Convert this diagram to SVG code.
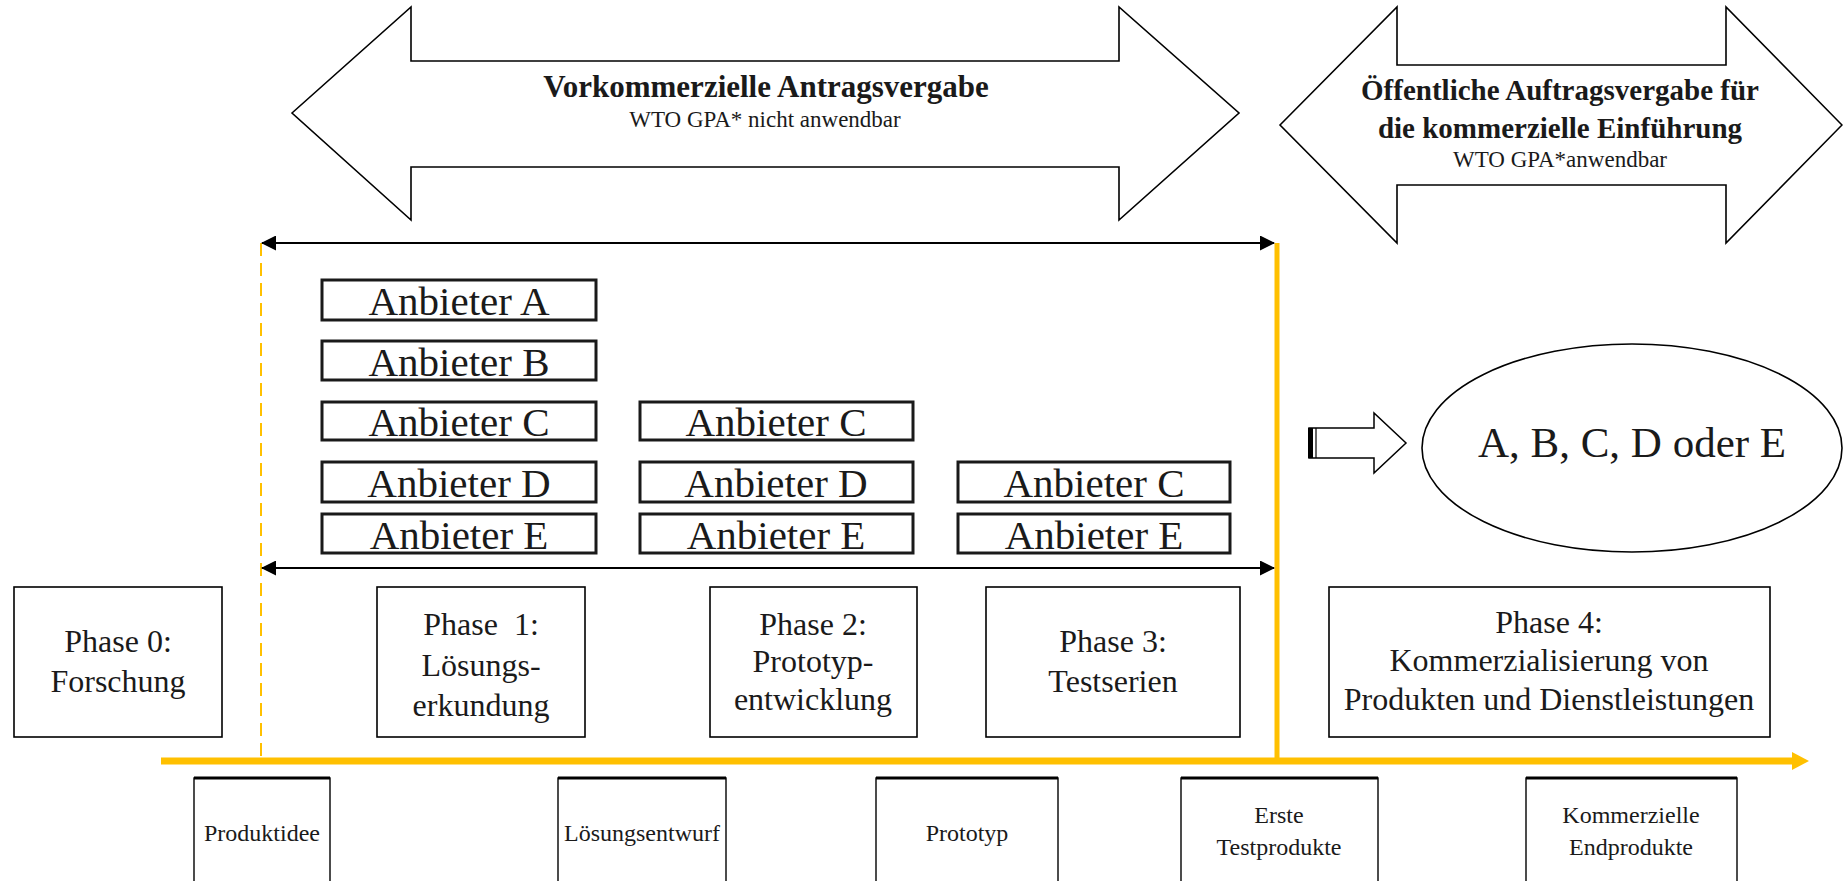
<svg xmlns="http://www.w3.org/2000/svg" width="1843" height="881" viewBox="0 0 1843 881">
<defs>
<style>
.bg{fill:#ffffff}
.big{fill:#ffffff;stroke:#000;stroke-width:1.6;stroke-linejoin:miter}
.t{font-family:"Liberation Serif","Times New Roman",serif;fill:#1a1a1a;text-anchor:middle}
.b{font-weight:bold}
.anb{fill:#fff;stroke:#1a1a1a;stroke-width:3}
.ph{fill:#fff;stroke:#000;stroke-width:1.6}
.bx{fill:#fff;stroke:#000;stroke-width:1.4}
.bxt{stroke:#000;stroke-width:3}
.dim{stroke:#000;stroke-width:2;fill:none}
</style>
<marker id="ah" viewBox="0 0 15 15" refX="14" refY="7.5" markerWidth="15" markerHeight="15" markerUnits="userSpaceOnUse" orient="auto-start-reverse">
<path d="M0,0 L15,7.5 L0,15 z" fill="#000"/>
</marker>
<marker id="oh" viewBox="0 0 17 18" refX="2" refY="9" markerWidth="17" markerHeight="18" markerUnits="userSpaceOnUse" orient="auto">
<path d="M0,0 L17,9 L0,18 z" fill="#FFC000"/>
</marker>
</defs>
<rect class="bg" x="0" y="0" width="1843" height="881"/>

<g id="arrow-vorkommerziell">
<polygon class="big" points="292,113 411,7 411,61 1119,61 1119,7 1239,113 1119,220 1119,167 411,167 411,220"/>
<text class="t b" x="766" y="97" font-size="31">Vorkommerzielle Antragsvergabe</text>
<text class="t" x="765" y="127" font-size="23">WTO GPA* nicht anwendbar</text>
</g>

<g id="arrow-oeffentlich">
<polygon class="big" points="1280,125 1397,7 1397,65 1726,65 1726,7 1842,125 1726,243 1726,185 1397,185 1397,243"/>
<text class="t b" x="1560" y="100" font-size="29">Öffentliche Auftragsvergabe für</text>
<text class="t b" x="1560" y="138" font-size="29">die kommerzielle Einführung</text>
<text class="t" x="1560" y="167" font-size="23">WTO GPA*anwendbar</text>
</g>

<g id="connectors">
<line x1="261" y1="243" x2="261" y2="758" stroke="#FFC000" stroke-width="2" stroke-dasharray="13,7"/>
<line x1="1277" y1="243" x2="1277" y2="758" stroke="#FFC000" stroke-width="5"/>
<line x1="161" y1="761" x2="1794" y2="761" stroke="#FFC000" stroke-width="7" marker-end="url(#oh)"/>
<line class="dim" x1="262" y1="243" x2="1274" y2="243" marker-start="url(#ah)" marker-end="url(#ah)"/>
<line class="dim" x1="262" y1="568" x2="1274" y2="568" marker-start="url(#ah)" marker-end="url(#ah)"/>
</g>

<g id="anbieter-1A"><rect class="anb" x="322" y="280" width="274" height="40"/><text class="t" x="459" y="315" font-size="41">Anbieter A</text></g>
<g id="anbieter-1B"><rect class="anb" x="322" y="341" width="274" height="39"/><text class="t" x="459" y="376" font-size="41">Anbieter B</text></g>
<g id="anbieter-1C"><rect class="anb" x="322" y="402" width="274" height="38"/><text class="t" x="459" y="436" font-size="41">Anbieter C</text></g>
<g id="anbieter-1D"><rect class="anb" x="322" y="462" width="274" height="40"/><text class="t" x="459" y="497" font-size="41">Anbieter D</text></g>
<g id="anbieter-1E"><rect class="anb" x="322" y="514" width="274" height="39"/><text class="t" x="459" y="549" font-size="41">Anbieter E</text></g>
<g id="anbieter-2C"><rect class="anb" x="640" y="402" width="273" height="38"/><text class="t" x="776" y="436" font-size="41">Anbieter C</text></g>
<g id="anbieter-2D"><rect class="anb" x="640" y="462" width="273" height="40"/><text class="t" x="776" y="497" font-size="41">Anbieter D</text></g>
<g id="anbieter-2E"><rect class="anb" x="640" y="514" width="273" height="39"/><text class="t" x="776" y="549" font-size="41">Anbieter E</text></g>
<g id="anbieter-3C"><rect class="anb" x="958" y="462" width="272" height="40"/><text class="t" x="1094" y="497" font-size="41">Anbieter C</text></g>
<g id="anbieter-3E"><rect class="anb" x="958" y="514" width="272" height="39"/><text class="t" x="1094" y="549" font-size="41">Anbieter E</text></g>

<g id="small-arrow">
<polygon points="1309,428 1374,428 1374,413 1406,443 1374,473 1374,458 1309,458" fill="#fff" stroke="#000" stroke-width="1.5"/>
<rect x="1308" y="428" width="5" height="30" fill="#000"/>
<line x1="1316" y1="428" x2="1316" y2="458" stroke="#000" stroke-width="1.2"/>
</g>

<g id="ellipse-result">
<ellipse cx="1632" cy="448" rx="210" ry="104" fill="#fff" stroke="#000" stroke-width="1.6"/>
<text class="t" x="1632" y="457" font-size="43">A, B, C, D oder E</text>
</g>

<g id="phase0"><rect class="ph" x="14" y="587" width="208" height="150"/>
<text class="t" x="118" y="652" font-size="32">Phase 0:</text><text class="t" x="118" y="692" font-size="32">Forschung</text></g>
<g id="phase1"><rect class="ph" x="377" y="587" width="208" height="150"/>
<text class="t" x="481" y="635" font-size="32" style="white-space:pre">Phase  1:</text><text class="t" x="481" y="676" font-size="32">Lösungs-</text><text class="t" x="481" y="716" font-size="32">erkundung</text></g>
<g id="phase2"><rect class="ph" x="710" y="587" width="207" height="150"/>
<text class="t" x="813" y="635" font-size="32">Phase 2:</text><text class="t" x="813" y="672" font-size="32">Prototyp-</text><text class="t" x="813" y="710" font-size="32">entwicklung</text></g>
<g id="phase3"><rect class="ph" x="986" y="587" width="254" height="150"/>
<text class="t" x="1113" y="652" font-size="32">Phase 3:</text><text class="t" x="1113" y="692" font-size="32">Testserien</text></g>
<g id="phase4"><rect class="ph" x="1329" y="587" width="441" height="150"/>
<text class="t" x="1549" y="633" font-size="32">Phase 4:</text><text class="t" x="1549" y="671" font-size="32">Kommerzialisierung von</text><text class="t" x="1549" y="710" font-size="32">Produkten und Dienstleistungen</text></g>

<g id="out-produktidee"><rect class="bx" x="194" y="778" width="136" height="120"/><line class="bxt" x1="194" y1="778" x2="330" y2="778"/>
<text class="t" x="262" y="841" font-size="24">Produktidee</text></g>
<g id="out-loesungsentwurf"><rect class="bx" x="558" y="778" width="168" height="120"/><line class="bxt" x1="558" y1="778" x2="726" y2="778"/>
<text class="t" x="642" y="841" font-size="24">Lösungsentwurf</text></g>
<g id="out-prototyp"><rect class="bx" x="876" y="778" width="182" height="120"/><line class="bxt" x1="876" y1="778" x2="1058" y2="778"/>
<text class="t" x="967" y="841" font-size="24">Prototyp</text></g>
<g id="out-testprodukte"><rect class="bx" x="1181" y="778" width="197" height="120"/><line class="bxt" x1="1181" y1="778" x2="1378" y2="778"/>
<text class="t" x="1279" y="823" font-size="24">Erste</text><text class="t" x="1279" y="855" font-size="24">Testprodukte</text></g>
<g id="out-endprodukte"><rect class="bx" x="1526" y="778" width="211" height="120"/><line class="bxt" x1="1526" y1="778" x2="1737" y2="778"/>
<text class="t" x="1631" y="823" font-size="24">Kommerzielle</text><text class="t" x="1631" y="855" font-size="24">Endprodukte</text></g>
</svg>
